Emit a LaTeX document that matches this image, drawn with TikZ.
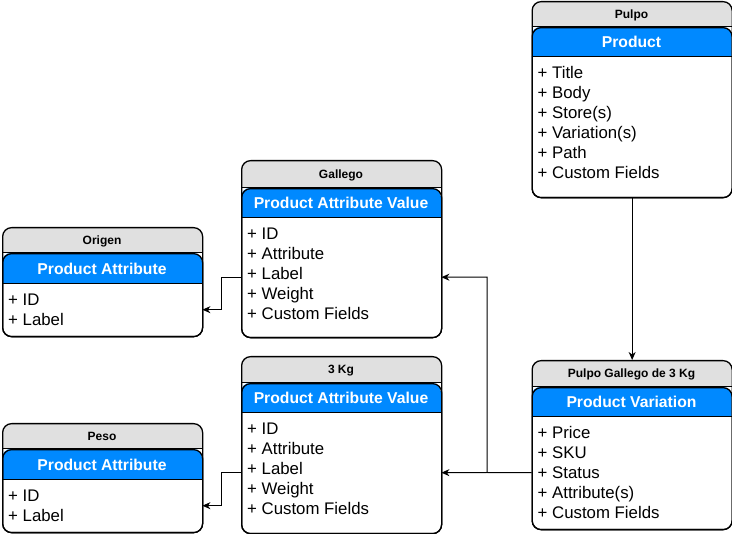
\documentclass[tikz,border=0pt]{standalone}
\usepackage{fontspec}
\setmainfont{Liberation Sans}
\usetikzlibrary{arrows.meta}
\definecolor{umlblue}{RGB}{0,137,255}
\definecolor{hdrgray}{RGB}{224,224,224}
\tikzset{
 boxline/.style={line width=1.3pt, draw=black},
 hdrtext/.style={font=\bfseries\fontsize{12}{14}\selectfont, anchor=base, inner sep=0},
 titletext/.style={font=\bfseries\fontsize{15.7}{18}\selectfont, text=white, anchor=base, inner sep=0},
 attrtext/.style={font=\fontsize{16.8}{20}\selectfont, anchor=base west, inner sep=0},
 conn/.style={line width=1pt, -{Stealth[length=8pt,width=7pt,inset=2.5pt]}},
 divider/.style={line width=0.8pt}
}
% #1 id, #2 x1, #3 top, #4 gray bottom, #5 blue bottom, #6 bottom, #7 header, #8 title, #9 attributes
\newcommand\entity[9]{%
 \pgfmathsetmacro\ex{#2+200}%
 \pgfmathsetmacro\eg{#4+1}%
 \pgfmathsetmacro\oh{#6-#3}%
 \pgfmathsetmacro\ch{#6-#4-1}%
 \pgfmathsetmacro\bh{#6-#5}%
 \begin{scope}
  \clip[rounded corners=9pt] (#2,#3) rectangle (\ex,#6);
  \fill[hdrgray] (#2,#3) rectangle (\ex,#4);
 \end{scope}
 \draw[divider] (#2,#4) -- (\ex,#4);
 \begin{scope}
  \clip[rounded corners=9pt] (#2,\eg) rectangle (\ex,#6);
  \fill[umlblue] (#2,\eg) rectangle (\ex,#5);
 \end{scope}
 \draw[divider] (#2,#5) -- (\ex,#5);
 \node[boxline, rounded corners=9pt, minimum width=200pt, minimum height=\oh pt, inner sep=0, anchor=north west] (#1) at (#2,#3) {};
 \node[boxline, rounded corners=9pt, minimum width=200pt, minimum height=\ch pt, inner sep=0, anchor=north west] (#1c) at (#2,\eg) {};
 \node[minimum width=200pt, minimum height=\bh pt, inner sep=0, anchor=north west] (#1b) at (#2,#5) {};
 \node[hdrtext] (#1h) at ({#2+100},{(#3+#4)/2+5}) {#7};
 \node[titletext] (#1t) at ({#2+100},{(#4+#5)/2+7}) {#8};
 \foreach \t [count=\i] in {#9} {
  \node[attrtext] (#1a\i) at ({#2+6},{#5+3+20*\i}) {+ \t};
 }
}
\begin{document}
\begin{tikzpicture}[x=1pt,y=-1pt]
\useasboundingbox (0,0) rectangle (732,534);
\entity{pulpo}{531.5}{1}{26}{56}{197}{Pulpo}{Product}{Title,Body,Store(s),Variation(s),Path,Custom Fields}
\entity{gallego}{241}{160}{187}{217}{337}{Gallego}{Product Attribute Value}{ID,Attribute,Label,Weight,Custom Fields}
\entity{origen}{2}{227}{252}{283}{336}{Origen}{Product Attribute}{ID,Label}
\entity{kg}{241}{356}{382}{412}{533}{3 Kg}{Product Attribute Value}{ID,Attribute,Label,Weight,Custom Fields}
\entity{peso}{2}{423}{448}{479}{532}{Peso}{Product Attribute}{ID,Label}
\entity{pgal}{531.5}{360}{386}{416}{529}{Pulpo Gallego de 3 Kg}{Product Variation}{Price,SKU,Status,Attribute(s),Custom Fields}
\coordinate (split) at (487,472.5);
\draw[conn] (pulpo.south) -- (pgal.north);
\draw[conn] (pgalb.west) -- (split) |- (gallegob.east);
\draw[conn] (split) -- (kgb.east);
\draw[conn] (gallegob.west) -- ++(-20,0) |- (origenb.east);
\draw[conn] (kgb.west) -- ++(-20,0) |- (pesob.east);
\end{tikzpicture}
\end{document}
